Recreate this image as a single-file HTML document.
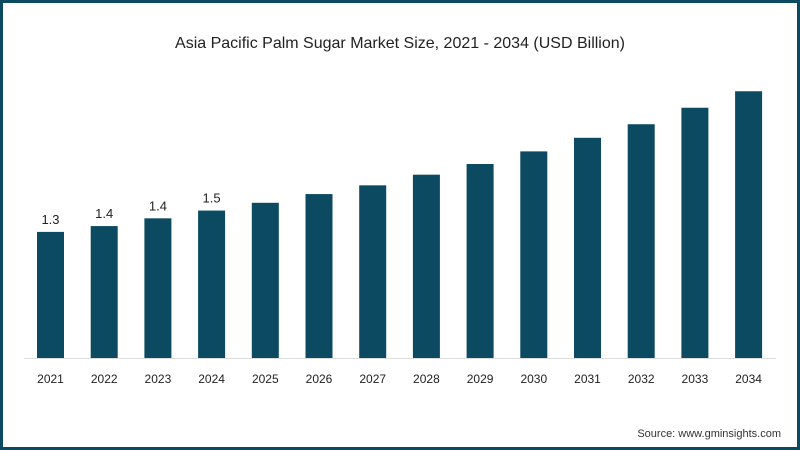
<!DOCTYPE html>
<html><head><meta charset="utf-8"><style>
body{margin:0;width:800px;height:450px;overflow:hidden;background:#fff;font-family:"Liberation Sans",sans-serif}
#frame{position:absolute;left:0;top:0;width:794px;height:444px;border:3px solid #0b4a61;background:#fff}
</style></head><body>
<div id="frame"></div>
<svg id="chart" width="800" height="450" style="position:absolute;left:0;top:0">
<text x="400" y="48" text-anchor="middle" font-size="16" fill="#222">Asia Pacific Palm Sugar Market Size, 2021 - 2034 (USD Billion)</text>
<line x1="24" y1="358.5" x2="776" y2="358.5" stroke="#ddd" stroke-width="1"/>
<text x="781" y="437" text-anchor="end" font-size="11" fill="#333">Source: www.gminsights.com</text>
</svg>
<script>
const categories=["2021","2022","2023","2024","2025","2026","2027","2028","2029","2030","2031","2032","2033","2034"];
const values=[1.3,1.36,1.44,1.52,1.6,1.69,1.78,1.89,2.0,2.13,2.27,2.41,2.58,2.75];
const valueLabels=["1.3","1.4","1.4","1.5","","","","","","","","","",""];
const svg=document.getElementById('chart');
const NS='http://www.w3.org/2000/svg';
const base=358, pxPerUnit=97, x0=37, step=53.7, bw=27;
const yScale=v=>base-v*pxPerUnit;
const xScale=i=>x0+i*step;
categories.forEach((c,i)=>{
  const r=document.createElementNS(NS,'rect');
  const y=yScale(values[i]);
  r.setAttribute('x',xScale(i));r.setAttribute('y',y);
  r.setAttribute('width',bw);r.setAttribute('height',base-y);
  r.setAttribute('fill','#0b4a61');
  
  
  svg.appendChild(r);
  const t=document.createElementNS(NS,'text');
  t.setAttribute('x',xScale(i)+bw/2);t.setAttribute('y',383);
  t.setAttribute('text-anchor','middle');t.setAttribute('font-size','12');t.setAttribute('fill','#222');
  t.textContent=c;
  
  
  svg.appendChild(t);
  if(valueLabels[i]){
    const l=document.createElementNS(NS,'text');
    l.setAttribute('x',xScale(i)+bw/2);l.setAttribute('y',y-8);
    l.setAttribute('text-anchor','middle');l.setAttribute('font-size','13');l.setAttribute('fill','#222');
    l.textContent=valueLabels[i];
    
    
    svg.appendChild(l);
  }
});
</script>
</body></html>
